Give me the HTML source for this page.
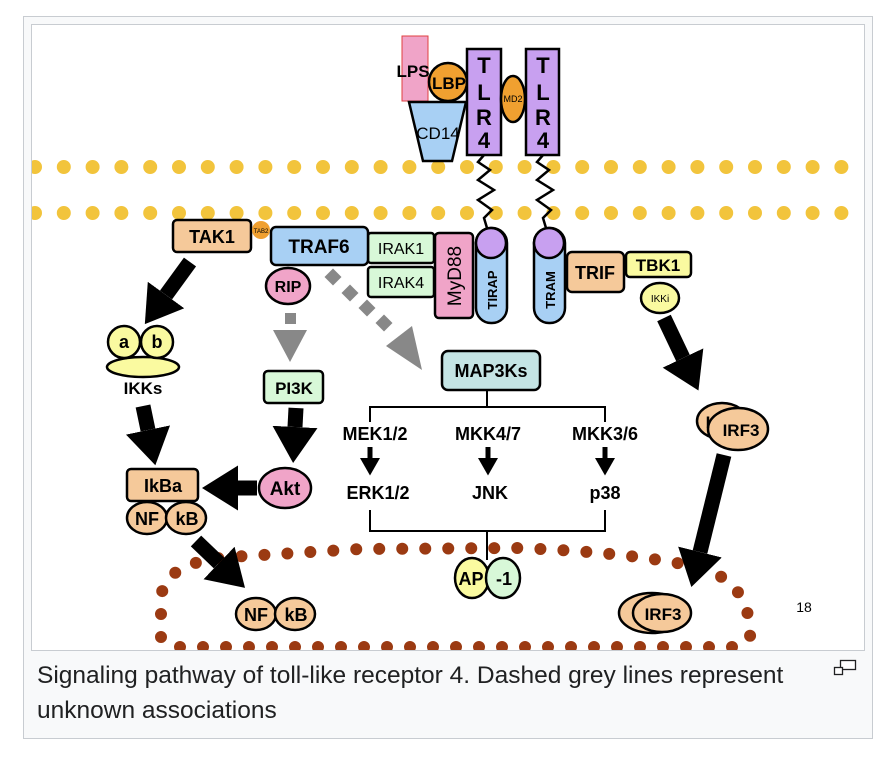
<!DOCTYPE html>
<html><head><meta charset="utf-8"><style>
html,body{margin:0;padding:0;background:#fff;width:892px;height:758px;overflow:hidden}
svg{display:block}
text{font-family:"Liberation Sans",Arial,sans-serif}
</style></head><body>
<svg width="892" height="758" viewBox="0 0 892 758" xmlns="http://www.w3.org/2000/svg">
<defs>
<marker id="ah" viewBox="0 0 3 3" refX="0" refY="1.5" markerWidth="3" markerHeight="3" markerUnits="strokeWidth" orient="auto"><path d="M0,0 L2.4,1.5 L0,3 z" fill="#000"/></marker>
<marker id="sh" viewBox="0 0 4 4" refX="0" refY="2" markerWidth="4" markerHeight="4" markerUnits="strokeWidth" orient="auto"><path d="M0,0 L3.5,2 L0,4 z" fill="#000"/></marker>
<clipPath id="ic"><rect x="32" y="25" width="833" height="625"/></clipPath>
</defs>
<rect x="23.5" y="16.5" width="849" height="722" fill="#f8f9fa" stroke="#c8ccd1"/>
<rect x="31.5" y="24.5" width="833" height="626" fill="#fff" stroke="#c8ccd1"/>
<g clip-path="url(#ic)">
<path d="M35,167 L870,167" stroke="#f2c43c" stroke-width="14" stroke-linecap="round" stroke-dasharray="0 28.8"/>
<path d="M35,213 L870,213" stroke="#f2c43c" stroke-width="14" stroke-linecap="round" stroke-dasharray="0 28.8"/>
<path d="M161,637 L161,598 Q164,562 230,557 L360,549 L520,548 Q640,553 700,568 Q752,582 750,640" fill="none" stroke="#9b3a12" stroke-width="12" stroke-linecap="round" stroke-dasharray="0 23"/>
<path d="M180,647 L750,647" stroke="#9b3a12" stroke-width="12" stroke-linecap="round" stroke-dasharray="0 23"/>
</g>
<g stroke="#000" stroke-width="2.5">
<rect x="402" y="36" width="26" height="65" fill="#f0a4c8" stroke="#e04040" stroke-width="1"/>
<path d="M409,102 L466,102 L452,161 L423,161 z" fill="#a8d0f4"/>
<circle cx="448" cy="82" r="19" fill="#f0a030"/>
<rect x="467" y="49" width="34" height="106" fill="#c8a0f0"/>
<rect x="526" y="49" width="33" height="106" fill="#c8a0f0"/>
<ellipse cx="513" cy="99" rx="12" ry="23" fill="#f0a030"/>
<path d="M484,155 L478,162 L490,170 L478,180 L494,190 L478,200 L492,210 L484,218 L487,228" fill="none"/>
<path d="M543,155 L537,162 L549,170 L537,180 L553,190 L537,200 L551,210 L543,218 L546,228" fill="none"/>
<rect x="368" y="233" width="66" height="30" rx="3" fill="#d8f8d8"/>
<rect x="368" y="267" width="66" height="30" rx="3" fill="#d8f8d8"/>
<rect x="435" y="233" width="38" height="85" rx="4" fill="#f0a4c8"/>
<rect x="476" y="228" width="31" height="95" rx="15" fill="#a8d0f4"/>
<circle cx="491" cy="243" r="15" fill="#c8a0f0"/>
<rect x="534" y="228" width="31" height="95" rx="15" fill="#a8d0f4"/>
<circle cx="549" cy="243" r="15" fill="#c8a0f0"/>
<rect x="567" y="252" width="57" height="40" rx="5" fill="#f5c99a"/>
<rect x="626" y="252" width="65" height="25" rx="4" fill="#fafaa0"/>
<ellipse cx="660" cy="298" rx="19" ry="15" fill="#fafaa0"/>
<rect x="173" y="220" width="78" height="32" rx="4" fill="#f5c99a"/>
<rect x="271" y="227" width="97" height="38" rx="5" fill="#a8d0f4"/>
<ellipse cx="288" cy="286" rx="22" ry="18" fill="#f0a4c8"/>
<rect x="264" y="371" width="59" height="32" rx="4" fill="#d8f8d8"/>
<ellipse cx="285" cy="488" rx="26" ry="20" fill="#f0a4c8"/>
<ellipse cx="143" cy="367" rx="36" ry="10" fill="#fafaa0"/>
<circle cx="124" cy="342" r="16" fill="#fafaa0"/>
<circle cx="157" cy="342" r="16" fill="#fafaa0"/>
<rect x="127" y="469" width="71" height="32" rx="4" fill="#f5c99a"/>
<ellipse cx="147" cy="518" rx="20" ry="16" fill="#f5c99a"/>
<ellipse cx="186" cy="518" rx="20" ry="16" fill="#f5c99a"/>
<ellipse cx="256" cy="614" rx="20" ry="16" fill="#f5c99a"/>
<ellipse cx="295" cy="614" rx="20" ry="16" fill="#f5c99a"/>
<rect x="442" y="351" width="98" height="39" rx="6" fill="#c4e4e4"/>
<path d="M487,390 L487,407 M370,422 L370,407 L605,407 L605,422 M370,510 L370,531 L605,531 L605,510 M487,531 L487,560" fill="none" stroke-width="2"/>
<ellipse cx="472" cy="578" rx="17" ry="20" fill="#fafaa0"/>
<ellipse cx="503" cy="578" rx="17" ry="20" fill="#d8f8d8"/>
<ellipse cx="722" cy="421" rx="25" ry="18" fill="#f5c99a"/>
<ellipse cx="738" cy="429" rx="30" ry="21" fill="#f5c99a"/>
<ellipse cx="652" cy="613" rx="33" ry="20" fill="#f5c99a"/>
<ellipse cx="662" cy="613" rx="29" ry="19" fill="#f5c99a"/>
</g>
<circle cx="261" cy="230" r="9" fill="#f0a030"/>
<g stroke="#000" stroke-width="15" fill="none">
<path d="M190,262 L166,295" marker-end="url(#ah)"/>
<path d="M143,406 L148,430" marker-end="url(#ah)"/>
<path d="M296,408 L295,427" marker-end="url(#ah)"/>
<path d="M257,488 L238,488" marker-end="url(#ah)"/>
<path d="M196,541 L219,563" marker-end="url(#ah)"/>
<path d="M664,318 L683,358" marker-end="url(#ah)"/>
<path d="M724,455 L700,552" marker-end="url(#ah)"/>
</g>
<g stroke="#000" stroke-width="5" fill="none">
<path d="M370,447 L370,458" marker-end="url(#sh)"/>
<path d="M488,447 L488,458" marker-end="url(#sh)"/>
<path d="M605,447 L605,458" marker-end="url(#sh)"/>
</g>
<g fill="#888">
<rect x="285" y="313" width="11" height="11"/>
<path d="M273,330 L307,330 L290,362 z"/>
<rect x="327" y="271" width="12" height="12" transform="rotate(45 333 277)"/>
<rect x="344" y="287" width="12" height="12" transform="rotate(45 350 293)"/>
<rect x="361" y="302" width="12" height="12" transform="rotate(45 367 308)"/>
<rect x="378" y="317" width="12" height="12" transform="rotate(45 384 323)"/>
<path d="M386,346 L412,326 L422,370 z"/>
</g>
<g font-weight="bold" fill="#000" text-anchor="middle">
<text x="413" y="77" font-size="17" font-weight="bold">LPS</text>
<text x="449" y="89" font-size="17">LBP</text>
<text x="438" y="139" font-size="17" font-weight="normal">CD14</text>
<text x="484" y="73" font-size="22">T</text>
<text x="484" y="100" font-size="22">L</text>
<text x="484" y="125" font-size="22">R</text>
<text x="484" y="148" font-size="22">4</text>
<text x="543" y="73" font-size="22">T</text>
<text x="543" y="100" font-size="22">L</text>
<text x="543" y="125" font-size="22">R</text>
<text x="543" y="148" font-size="22">4</text>
<text x="513" y="102" font-size="9" font-weight="normal">MD2</text>
<text x="401" y="254" font-size="16" font-weight="normal">IRAK1</text>
<text x="401" y="288" font-size="16" font-weight="normal">IRAK4</text>
<text transform="translate(461,276) rotate(-90)" font-size="19" font-weight="normal">MyD88</text>
<text transform="translate(497,290) rotate(-90)" font-size="13">TIRAP</text>
<text transform="translate(555,290) rotate(-90)" font-size="13">TRAM</text>
<text x="595" y="279" font-size="18">TRIF</text>
<text x="658" y="271" font-size="17">TBK1</text>
<text x="660" y="302" font-size="10" font-weight="normal">IKKi</text>
<text x="261" y="233" font-size="6" font-weight="normal">TAB2</text>
<text x="212" y="243" font-size="18">TAK1</text>
<text x="319" y="253" font-size="19">TRAF6</text>
<text x="288" y="292" font-size="16">RIP</text>
<text x="294" y="394" font-size="17">PI3K</text>
<text x="285" y="495" font-size="19">Akt</text>
<text x="124" y="348" font-size="18">a</text>
<text x="157" y="348" font-size="18">b</text>
<text x="143" y="394" font-size="17">IKKs</text>
<text x="163" y="492" font-size="18">IkBa</text>
<text x="147" y="525" font-size="18">NF</text>
<text x="187" y="525" font-size="18">kB</text>
<text x="256" y="621" font-size="18">NF</text>
<text x="296" y="621" font-size="18">kB</text>
<text x="491" y="377" font-size="18">MAP3Ks</text>
<text x="375" y="440" font-size="18">MEK1/2</text>
<text x="488" y="440" font-size="18">MKK4/7</text>
<text x="605" y="440" font-size="18">MKK3/6</text>
<text x="378" y="499" font-size="18">ERK1/2</text>
<text x="490" y="499" font-size="18">JNK</text>
<text x="605" y="499" font-size="18">p38</text>
<text x="471" y="585" font-size="18">AP</text>
<text x="504" y="585" font-size="18">-1</text>
<text x="708" y="428" font-size="17">I</text>
<text x="741" y="436" font-size="17">IRF3</text>
<text x="663" y="620" font-size="17">IRF3</text>
<text x="804" y="612" font-size="14" font-weight="normal">18</text>
</g>
<text x="37" y="683" font-size="24.5" fill="#202122">Signaling pathway of toll-like receptor 4. Dashed grey lines represent</text>
<text x="37" y="718" font-size="24.5" fill="#202122">unknown associations</text>
<g fill="#fff" stroke="#202122" stroke-width="1.3">
<rect x="840.5" y="660.5" width="15" height="9"/>
<rect x="834.5" y="667.5" width="8" height="7"/>
</g>
</svg>
</body></html>
